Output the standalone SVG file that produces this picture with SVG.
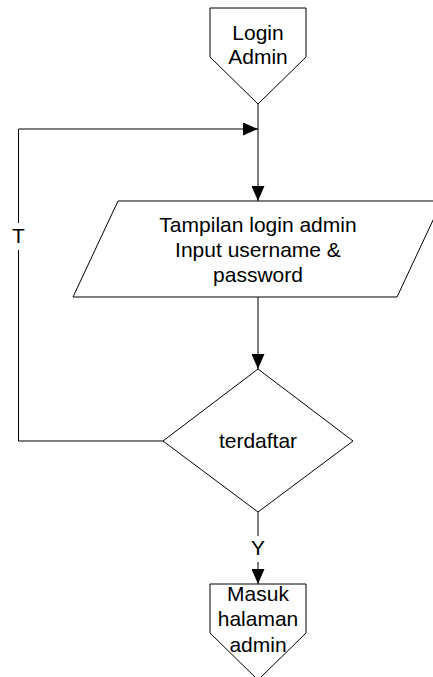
<svg xmlns="http://www.w3.org/2000/svg" width="433" height="677" viewBox="0 0 433 677">
<style>
.shape{fill:#fff;stroke:#000;stroke-width:1}
.conn{fill:none;stroke:#000;stroke-width:1}
text{font-family:"Liberation Sans",Arial,sans-serif;font-size:21px;fill:#000;text-anchor:middle}
</style>
<defs>
<marker id="arr" viewBox="0 0 15 13" refX="15" refY="6.5" markerWidth="15" markerHeight="13" markerUnits="userSpaceOnUse" orient="auto">
<path d="M0,0 L15,6.5 L0,13 z" fill="#000"/>
</marker>
</defs>
<rect width="433" height="677" fill="#fff"/>
<g id="connectors">
<path class="conn" d="M258,104 V201" marker-end="url(#arr)"/>
<path class="conn" d="M163,441 H18.5 V250"/>
<path class="conn" d="M18.5,223 V129 H258" marker-end="url(#arr)"/>
<path class="conn" d="M258,297 V369" marker-end="url(#arr)"/>
<path class="conn" d="M258,512 V536"/>
<path class="conn" d="M258,562 V584" marker-end="url(#arr)"/>
<text x="18.5" y="243.3">T</text>
<text x="258" y="555">Y</text>
</g>
<g id="login-admin">
<polygon class="shape" points="210,8 306,8 306,57 258,104 210,57"/>
<text x="258" y="40">Login</text>
<text x="258" y="64.3">Admin</text>
</g>
<g id="tampilan-login">
<polygon class="shape" points="118,201 442,201 397,297 73,297"/>
<text x="258" y="231.5">Tampilan login admin</text>
<text x="258" y="256.5">Input username &amp;</text>
<text x="258" y="281.5">password</text>
</g>
<g id="terdaftar">
<polygon class="shape" points="258,369 353,441 258,512 163,441"/>
<text x="258" y="447.5">terdaftar</text>
</g>
<g id="masuk-halaman-admin">
<polygon class="shape" points="210,584 306,584 306,633 258,680 210,633"/>
<text x="258" y="600.7">Masuk</text>
<text x="258" y="626.2">halaman</text>
<text x="258" y="651.7">admin</text>
</g>
</svg>
